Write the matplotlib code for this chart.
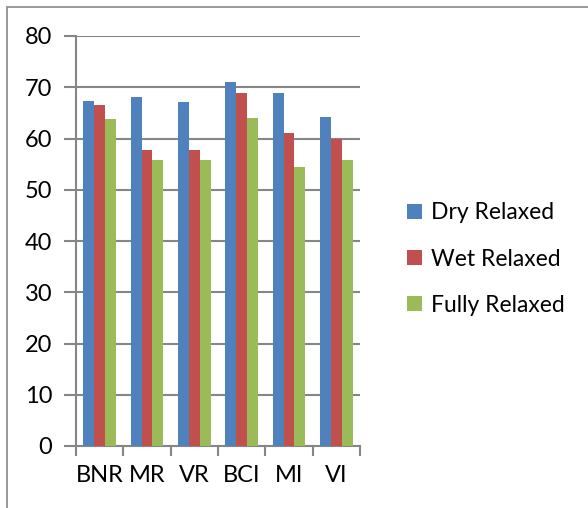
import numpy as np
import matplotlib.pyplot as plt
from matplotlib.patches import Rectangle

categories = ["BNR", "MR", "VR", "BCI", "MI", "VI"]
dry_relaxed = [67.4, 68.1, 67.2, 71.0, 68.8, 64.1]
wet_relaxed = [66.5, 57.8, 57.8, 68.9, 61.0, 60.0]
fully_relaxed = [63.9, 55.9, 55.9, 64.0, 54.5, 55.9]
series_names = ["Dry Relaxed", "Wet Relaxed", "Fully Relaxed"]
colors = ["#4F81BD", "#C0504D", "#9BBB59"]

plt.rcParams['font.family'] = ['Lato', 'DejaVu Sans']
grey = "#868686"

fig = plt.figure(figsize=(5.88, 5.08), dpi=100)
fig.patches.append(Rectangle((7 / 588, -0.1), 1.2, 1 - 7 / 508 + 0.1, transform=fig.transFigure,
                             fill=False, edgecolor=grey, linewidth=1.2))
ax = fig.add_axes([76 / 588, 1 - 446 / 508, 284 / 588, 410 / 508])

x = np.arange(len(categories))
w = 0.23
for i, (vals, name) in enumerate(zip([dry_relaxed, wet_relaxed, fully_relaxed], series_names)):
    ax.bar(x + (i - 1) * w, vals, w, color=colors[i], label=name, zorder=3)

ax.set_xlim(-0.5, len(categories) - 0.5)
ax.set_ylim(0, 80)
ax.set_yticks(np.arange(0, 81, 10))
ax.grid(axis='y', color=grey, linewidth=1.5, zorder=0)
ax.set_xticks(np.arange(-0.5, len(categories), 1))
ax.set_xticklabels([])
ax.set_xticks(x, minor=True)
ax.set_xticklabels(categories, minor=True, fontsize=17)
ax.tick_params(axis='x', which='minor', length=0, pad=14)
ax.tick_params(axis='x', which='major', length=7, width=1.5, color=grey, direction='out')
ax.tick_params(axis='y', length=9, width=1.5, color=grey, labelsize=17, pad=8)
for s in ['top', 'right']:
    ax.spines[s].set_visible(False)
for s in ['left', 'bottom']:
    ax.spines[s].set_color(grey)
    ax.spines[s].set_linewidth(1.5)

fig.legend(loc='center left', bbox_to_anchor=(386 / 588, 1 - 259 / 508), frameon=False,
           fontsize=16.5, handlelength=0.65, handleheight=0.65, handletextpad=0.4, labelspacing=1.1)

fig.savefig("out.png", dpi=100)
